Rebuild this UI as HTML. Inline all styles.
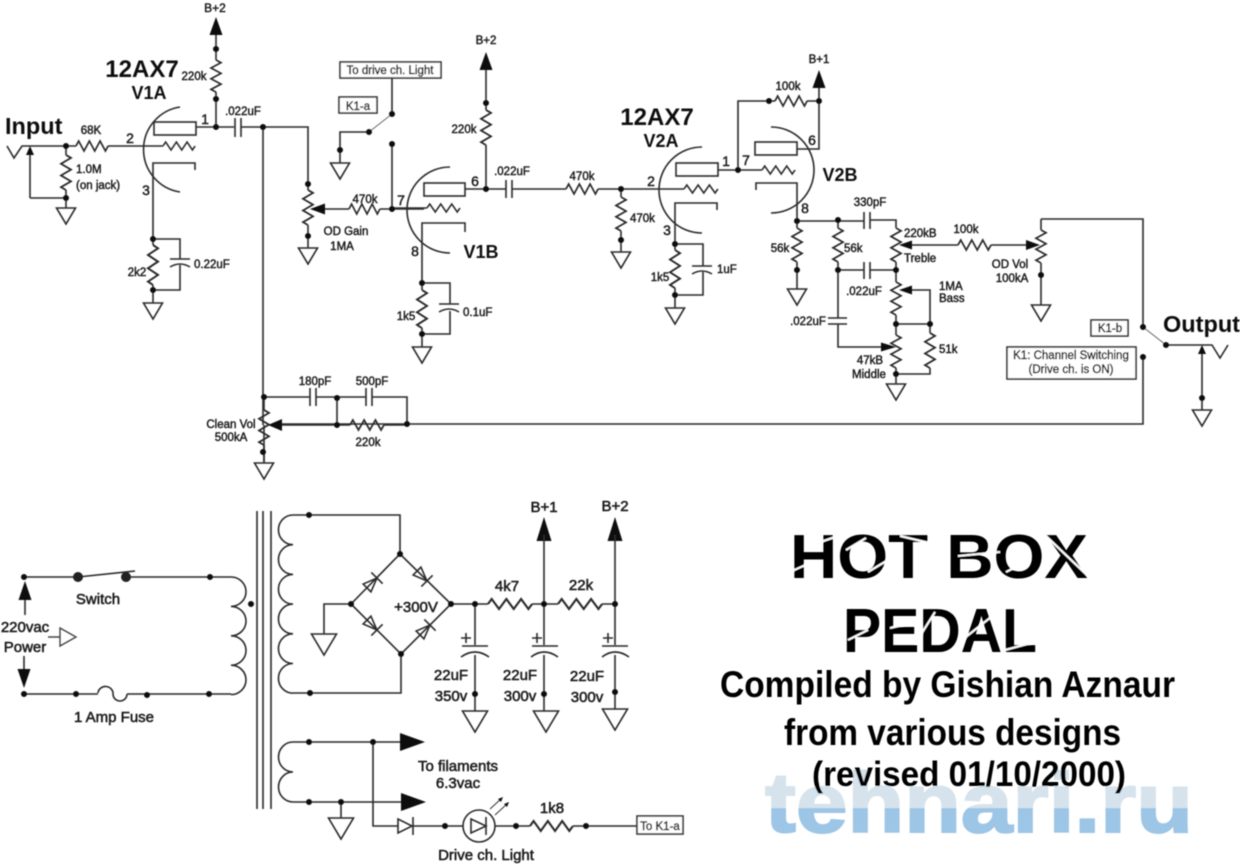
<!DOCTYPE html>
<html><head><meta charset="utf-8"><title>Hot Box Pedal</title>
<style>
html,body{margin:0;padding:0;background:#fff;width:1240px;height:864px;overflow:hidden}
svg{display:block}
.w{fill:none;stroke:#2c2c2c;stroke-width:1.6}
.t{stroke:#666;stroke-width:1;fill:none}
.f{fill:#111;stroke:none}
.d{fill:none;stroke:#111;stroke-width:6;stroke-linecap:round}
.b{fill:none;stroke:#222;stroke-width:6.5;stroke-linecap:round}
.bx{fill:#fff;stroke:#333;stroke-width:1.6}
text{font-family:"Liberation Sans",sans-serif;fill:#1c1c1c;stroke:#1c1c1c;stroke-width:.45;font-size:11.5px}
.m{text-anchor:middle}
.p{font-size:14px}
.l{font-size:15px;stroke-width:.55}
.h{font-weight:bold;stroke:none;fill:#111}
</style></head><body>
<svg width="1240" height="864" viewBox="0 0 1240 864" xmlns="http://www.w3.org/2000/svg">
<defs>
<filter id="bl" x="0" y="0" width="100%" height="100%"><feGaussianBlur stdDeviation="0.45"/></filter>
<linearGradient id="wm" gradientUnits="userSpaceOnUse" x1="0" y1="767" x2="0" y2="835">
<stop offset="0" stop-color="#d6e3ec"/><stop offset=".6" stop-color="#d6e3ec"/><stop offset=".61" stop-color="#9dc5e5"/><stop offset="1" stop-color="#9dc5e5"/>
</linearGradient>
<path id="r" class="w" d="M0 0l2.5-5 5 10 5-10 5 10 5-10 5 10 2.5-5"/>
<path id="g" class="w" d="M-9.5 0H9.5L0 16Z"/>
<path id="G" class="w" d="M-12.5 0H12.5L0 21Z"/>
<path id="dio" class="w" d="M-7-5.5L7 0-7 5.5ZM7-8V8"/>
</defs>
<rect width="1240" height="864" fill="#fff"/>
<g filter="url(#bl)">

<!-- watermark -->
<text x="765" y="832" textLength="428" lengthAdjust="spacingAndGlyphs" style="font-weight:bold;font-size:84px;fill:url(#wm);stroke:url(#wm);stroke-width:2">tehnari.ru</text>

<!-- V1A stage -->
<path class="w" d="M7 146L14 158 22 146H76M108 146H163M30 198V150M30 198H66M66 146V155M66 190V208"/>
<path class="f" d="M30 146l4 9h-8z"/>
<use href="#r" transform="translate(76,146) scale(1.07,1)"/>
<use href="#r" transform="translate(66,155) rotate(90) scale(1.17,1)"/>
<use href="#g" transform="translate(66,208)"/>
<use href="#r" transform="translate(163,146) scale(1.07,.8)"/>
<path class="w" d="M180 107A43 43 0 0 0 180 192"/>
<rect class="w" x="154" y="122" width="42" height="13"/>
<path class="w" d="M196 127H234M216 127V92M216 60V49M216 49V32"/>
<use href="#r" transform="translate(216,60) rotate(90) scale(1.07,1)"/>
<path class="f" d="M216 17l6.5 18h-13z"/>
<path class="w" d="M195 170V163H153V245M153 285V303M153 239H180V259M180 265V290H153"/>
<use href="#r" transform="translate(153,245) rotate(90) scale(1.33,1)"/>
<path class="w" d="M170 259H190M170 267Q180 261 190 267"/>
<use href="#g" transform="translate(153,303)"/>
<path class="w" d="M235 118V137M241 118V137"/>
<path class="w" d="M241 127H308V190M308 225V248"/>
<use href="#r" transform="translate(308,190) rotate(90) scale(1.17,1)"/>
<use href="#g" transform="translate(308,248)"/>
<path class="f" d="M310 209l15-5.5v11z"/>
<path class="w" d="M325 209H349M380 209H424"/>
<use href="#r" transform="translate(349,209) scale(1.03,1)"/>
<path class="w" d="M263 127V425M264 425V463"/>
<rect class="bx" x="340" y="62" width="101" height="16"/>
<path class="w" d="M392 78V114M392 144V209"/>
<rect class="bx" x="339" y="97" width="38" height="16"/>
<path class="t" d="M369 132L392 114"/>
<path class="w" d="M369 132H340V163"/>
<use href="#g" transform="translate(340,163)"/>

<!-- V1B -->
<path class="w" d="M486 68V110M486 145V189M465 189H506M512 189H566M598 189H684"/>
<path class="f" d="M486 52l6.5 18h-13z"/>
<use href="#r" transform="translate(486,110) rotate(90) scale(1.17,1)"/>
<path class="w" d="M450 167A43 43 0 0 0 450 253"/>
<rect class="w" x="424" y="183" width="41" height="13"/>
<path class="w" d="M392 208H427"/>
<use href="#r" transform="translate(427,208) scale(1.1,.8)"/>
<path class="w" d="M465 232V223H422V290M422 328V347M422 283H450V304M450 311V334H422"/>
<path class="w" d="M439 304H459M439 312Q449 306 459 312"/>
<use href="#r" transform="translate(422,290) rotate(90) scale(1.27,1)"/>
<use href="#g" transform="translate(422,347)"/>
<path class="w" d="M506 180V198M512 180V198"/>
<use href="#r" transform="translate(566,189) scale(1.07,1)"/>

<!-- V2A -->
<path class="w" d="M621 189V197M621 231V252"/>
<use href="#r" transform="translate(621,197) rotate(90) scale(1.13,1)"/>
<use href="#g" transform="translate(621,252)"/>
<path class="w" d="M702 147A43 43 0 0 0 702 233"/>
<rect class="w" x="676" y="163" width="42" height="13"/>
<use href="#r" transform="translate(684,189) scale(1.13,.8)"/>
<path class="w" d="M717 210V203H675V250M675 288V308M675 244H703V266M703 272V295H675"/>
<path class="w" d="M692 266H712M692 274Q702 268 712 274"/>
<use href="#r" transform="translate(675,250) rotate(90) scale(1.27,1)"/>
<use href="#g" transform="translate(675,308)"/>

<!-- V2B -->
<path class="w" d="M718 170H762M738 170V101H775M807 101H819M819 85V149H797"/>
<path class="f" d="M819 70l6.5 18h-13z"/>
<use href="#r" transform="translate(775,101) scale(1.07,1)"/>
<path class="w" d="M771 127A43 43 0 0 1 771 213"/>
<rect class="w" x="755" y="142" width="42" height="13"/>
<use href="#r" transform="translate(762,170) scale(1.1,.8)"/>
<path class="w" d="M756 190V183H797V221M797 221H864M870 220H896V228M797 221V228M797 262V289"/>
<use href="#r" transform="translate(797,228) rotate(90) scale(1.13,1)"/>
<use href="#g" transform="translate(797,289)"/>
<path class="w" d="M864 212V229M870 212V229"/>

<!-- tone stack -->
<path class="w" d="M838 220V228M838 262V318M838 324V347H881M838 270H864M870 270H896V282M896 315V335M896 368V384M896 324H930V333M930 368V374H896"/>
<use href="#r" transform="translate(838,228) rotate(90) scale(1.13,1)"/>
<path class="w" d="M864 262V279M870 262V279M828 318H847M828 324H847"/>
<use href="#r" transform="translate(896,228) rotate(90) scale(1.13,1)"/>
<path class="w" d="M896 262V270"/>
<use href="#r" transform="translate(896,282) rotate(90) scale(1.1,1)"/>
<use href="#r" transform="translate(896,335) rotate(90) scale(1.1,1)"/>
<use href="#r" transform="translate(930,333) rotate(90) scale(1.17,1)"/>
<use href="#g" transform="translate(896,384)"/>
<path class="f" d="M899 245l13-4.5v9zM899 290l13-4.5v9zM896 347l-15-4.5v9zM1040 245l-14-5v10z"/>
<path class="w" d="M912 245H958M991 245H1026M912 290H930V324"/>
<use href="#r" transform="translate(958,245) scale(1.1,1)"/>
<path class="w" d="M1041 219V230M1041 263V305M1041 219H1143V327M1143 357V424H272"/>
<use href="#r" transform="translate(1041,230) rotate(90) scale(1.1,1)"/>
<use href="#g" transform="translate(1041,305)"/>
<rect class="bx" x="1091" y="320" width="37" height="16"/>
<rect class="bx" x="1007" y="347" width="129" height="32"/>
<path class="t" d="M1143 327L1166 345"/>
<path class="w" d="M1166 345H1212L1220 358 1228 345M1202 350V410"/>
<path class="f" d="M1202 345l4 9h-8z"/>
<use href="#g" transform="translate(1202,410)"/>

<!-- clean vol -->
<path class="w" d="M264 397H310M316 397H366M372 397H407V424M337 398V425M310 388V406M316 388V406M366 388V406M372 388V406M264 397V410M264 445V463"/>
<use href="#r" transform="translate(264,410) rotate(90) scale(1.17,1)"/>
<use href="#g" transform="translate(264,463)"/>
<path class="f" d="M268 425l14-6v12z"/>
<path class="w" d="M282 425H350M384 425H407"/>
<use href="#r" transform="translate(350,425) scale(1.13,1)"/>

<!-- primary -->
<path class="w" d="M24 577H78L135 571M126 577H231M24 694H98M127 694H231"/>
<path class="w" d="M98 693a7.5 7 0 0 1 15 1a7 7 0 0 0 14 0"/>
<path class="w" d="M231 577a15 14.7 0 0 1 0 29.4a15 14.7 0 0 1 0 29.4a15 14.7 0 0 1 0 29.4a15 14.7 0 0 1 0 29.4"/>
<path class="w" d="M257 511V809M263 511V809M271 511V809"/>
<path class="w" d="M25 596V615M24 656V672"/>
<path class="f" d="M25 581l6.5 19h-13zM24 688l6.5-19h-13z"/>
<path class="t" style="stroke:#444;stroke-width:1.4" d="M48 637H60M60 628L76 637 60 646Z"/>

<!-- secondary -->
<path class="w" d="M293 515a14.5 14.8 0 0 0 0 29.7a14.5 14.8 0 0 0 0 29.7a14.5 14.8 0 0 0 0 29.7a14.5 14.8 0 0 0 0 29.7a14.5 14.8 0 0 0 0 29.7a14.5 14.8 0 0 0 0 29.7"/>
<path class="w" d="M293 515H400V554M293 693H401V654"/>
<path class="w" d="M351 604L400 554 451 604 401 654ZM351 604H324V634M451 604H488M532 604H558M602 604H615"/>
<use href="#G" transform="translate(324,634)"/>
<use href="#dio" transform="translate(372,583) rotate(-45)"/>
<use href="#dio" transform="translate(422,576) rotate(45)"/>
<use href="#dio" transform="translate(372,625) rotate(45)"/>
<use href="#dio" transform="translate(425,630) rotate(-45)"/>
<use href="#r" transform="translate(488,604) scale(1.47,1)"/>
<use href="#r" transform="translate(558,604) scale(1.47,1)"/>
<path class="f" d="M544 517l7.5 24h-15zM615 517l7.5 24h-15z"/>
<path class="w" d="M544 535V645M544 655V711M615 535V645M615 655V709M475 604V645M475 655V711"/>
<path class="w" d="M462 646H488M461 657Q475 647 489 657M532 646H558M531 657Q544 647 558 657M602 646H628M602 657Q615 647 629 657"/>
<path class="w" d="M461 638H471M466 633V643M532 638H542M537 633V643M603 638H613M608 633V643"/>
<use href="#G" transform="translate(475,711)"/>
<use href="#G" transform="translate(546,711)"/>
<use href="#G" transform="translate(615,709)"/>

<!-- filaments -->
<path class="w" d="M293 742a14.5 15 0 0 0 0 30a14.5 15 0 0 0 0 30"/>
<path class="w" d="M293 742H402M293 802H402M341 802V818M373 742V826H398M413 826H463M495 826H530M573 826H637"/>
<path class="f" d="M400 733l25 9-25 9zM401 793l25 9-25 9z"/>
<use href="#G" transform="translate(341,818)"/>
<path class="w" d="M398 819V833L412 826ZM413 817V835"/>
<circle class="w" cx="479" cy="826" r="16"/>
<path class="w" d="M471 819V833L486 826ZM486 817V835"/>
<path class="t" style="stroke:#333" d="M490 809L502 798M495 815L508 803"/>
<path class="f" d="M503 797l-5 2 3 3zM509 802l-5 2 3 3z"/>
<use href="#r" transform="translate(530,826) scale(1.43,1)"/>
<rect class="bx" x="637" y="816" width="46" height="18"/>

<!-- dots -->
<path class="d" d="M66 146h0M66 198h0M216 49h0M216 99h0M216 127h0M153 239h0M153 290h0M263 127h0M308 184h0M308 236h0M392 209h0M392 114h0M392 144h0M369 132h0M340 150h0M486 103h0M486 189h0M422 283h0M422 334h0M621 189h0M621 240h0M738 170h0M769 101h0M819 101h0M675 244h0M675 295h0M797 221h0M838 220h0M838 270h0M896 270h0M896 324h0M930 324h0M896 374h0M797 270h0M1041 275h0M1143 327h0M1143 357h0M1166 345h0M1202 398h0M264 397h0M337 398h0M337 425h0M407 424h0M263 452h0M24 577h0M24 694h0M210 577h0M76 694h0M147 695h0M209 694h0M251 604h0M309 515h0M310 693h0M400 554h0M351 604h0M451 604h0M401 654h0M475 604h0M544 604h0M615 604h0M475 694h0M544 694h0M615 692h0M309 742h0M373 742h0M309 802h0M341 802h0M445 826h0M516 826h0M586 826h0"/>
<path class="b" style="stroke-width:10" d="M78 577h0M126 577h0"/>

<!-- labels -->
<text x="5" y="134" class="h" style="font-size:23.5px">Input</text>
<text x="215" y="12" class="m" style="font-size:12px">B+2</text>
<text x="142" y="77" class="m h" style="font-size:24px">12AX7</text>
<text x="149" y="99" class="m h" style="font-size:18px">V1A</text>
<text x="194" y="80" class="m">220k</text>
<text x="91" y="134" class="m">68K</text>
<text x="130" y="143" class="m p">2</text>
<text x="205" y="124" class="m p">1</text>
<text x="146" y="195" class="m p">3</text>
<text x="76" y="173">1.0M</text>
<text x="76" y="189">(on jack)</text>
<text x="194" y="268">0.22uF</text>
<text x="137" y="276" class="m">2k2</text>
<text x="243" y="115" class="m">.022uF</text>
<text x="365" y="203" class="m">470k</text>
<text x="401" y="205" class="m p">7</text>
<text x="346" y="235" class="m">OD Gain</text>
<text x="342" y="250" class="m">1MA</text>
<text x="390" y="74" class="m" style="font-size:11.5px">To drive ch. Light</text>
<text x="358" y="110" class="m" style="font-size:11.5px">K1-a</text>
<text x="486" y="44" class="m">B+2</text>
<text x="464" y="133" class="m">220k</text>
<text x="475" y="186" class="m p">6</text>
<text x="512" y="175" class="m">.022uF</text>
<text x="582" y="180" class="m">470k</text>
<text x="651" y="186" class="m p">2</text>
<text x="415" y="256" class="m p">8</text>
<text x="481" y="258" class="m h" style="font-size:18px">V1B</text>
<text x="463" y="316">0.1uF</text>
<text x="406" y="320" class="m">1k5</text>
<text x="657" y="125" class="m h" style="font-size:24px">12AX7</text>
<text x="661" y="147" class="m h" style="font-size:18px">V2A</text>
<text x="726" y="166" class="m p">1</text>
<text x="746" y="165" class="m p">7</text>
<text x="812" y="145" class="m p">6</text>
<text x="805" y="213" class="m p">8</text>
<text x="667" y="235" class="m p">3</text>
<text x="788" y="90" class="m">100k</text>
<text x="819" y="63" class="m">B+1</text>
<text x="840" y="181" class="m h" style="font-size:18px">V2B</text>
<text x="630" y="222">470k</text>
<text x="717" y="273">1uF</text>
<text x="660" y="281" class="m">1k5</text>
<text x="780" y="252" class="m">56k</text>
<text x="870" y="206" class="m">330pF</text>
<text x="844" y="252">56k</text>
<text x="904" y="237">220kB</text>
<text x="904" y="262">Treble</text>
<text x="864" y="295" class="m">.022uF</text>
<text x="808" y="325" class="m">.022uF</text>
<text x="939" y="290">1MA</text>
<text x="939" y="302">Bass</text>
<text x="939" y="353">51k</text>
<text x="870" y="364" class="m">47kB</text>
<text x="869" y="378" class="m">Middle</text>
<text x="966" y="233" class="m">100k</text>
<text x="1010" y="268" class="m">OD Vol</text>
<text x="1012" y="282" class="m">100kA</text>
<text x="1110" y="332" class="m" style="font-size:11.5px">K1-b</text>
<text x="1071" y="359" class="m" style="font-size:11.5px">K1: Channel Switching</text>
<text x="1071" y="373" class="m" style="font-size:11.5px">(Drive ch. is ON)</text>
<text x="1163" y="332" class="h" style="font-size:23.5px">Output</text>
<text x="315" y="385" class="m">180pF</text>
<text x="372" y="385" class="m">500pF</text>
<text x="368" y="446" class="m">220k</text>
<text x="231" y="428" class="m">Clean Vol</text>
<text x="231" y="441" class="m">500kA</text>
<text x="25" y="632" class="m l">220vac</text>
<text x="25" y="652" class="m l">Power</text>
<text x="98" y="604" class="m l">Switch</text>
<text x="114" y="722" class="m l">1 Amp Fuse</text>
<text x="416" y="612" class="m l">+300V</text>
<text x="507" y="591" class="m l">4k7</text>
<text x="581" y="590" class="m l">22k</text>
<text x="544" y="512" class="m l">B+1</text>
<text x="615" y="511" class="m l">B+2</text>
<text x="451" y="680" class="m l">22uF</text>
<text x="451" y="701" class="m l">350v</text>
<text x="520" y="680" class="m l">22uF</text>
<text x="520" y="701" class="m l">300v</text>
<text x="587" y="681" class="m l">22uF</text>
<text x="587" y="702" class="m l">300v</text>
<text x="458" y="771" class="m l">To filaments</text>
<text x="458" y="788" class="m l">6.3vac</text>
<text x="552" y="813" class="m l">1k8</text>
<text x="486" y="860" class="m l">Drive ch. Light</text>
<text x="660" y="830" class="m" style="font-size:11.5px">To K1-a</text>

<!-- title -->
<text x="790" y="578" textLength="298" lengthAdjust="spacingAndGlyphs" class="h" style="font-size:62px;fill:#000">HOT BOX</text>
<text x="843" y="652" textLength="194" lengthAdjust="spacingAndGlyphs" class="h" style="font-size:62px;fill:#000">PEDAL</text>
<path d="M790 572L812 562M812 545L838 536M846 550L866 538M868 572L888 560M900 536L934 544M958 556L1000 552M1006 572L1030 560M1046 536L1090 578M848 640L868 630M890 628L908 624M915 644L935 612M962 640L1000 610M1005 650L1035 642" stroke="#fff" stroke-width="2" fill="none"/>
<text x="720" y="697" textLength="455" lengthAdjust="spacingAndGlyphs" class="h" style="font-size:37px;fill:#000">Compiled by Gishian Aznaur</text>
<text x="784" y="745" textLength="337" lengthAdjust="spacingAndGlyphs" class="h" style="font-size:37px;fill:#000">from various designs</text>
<text x="812" y="786" textLength="314" lengthAdjust="spacingAndGlyphs" class="h" style="font-size:35px;fill:#000">(revised 01/10/2000)</text>
</g>
</svg>
</body></html>
